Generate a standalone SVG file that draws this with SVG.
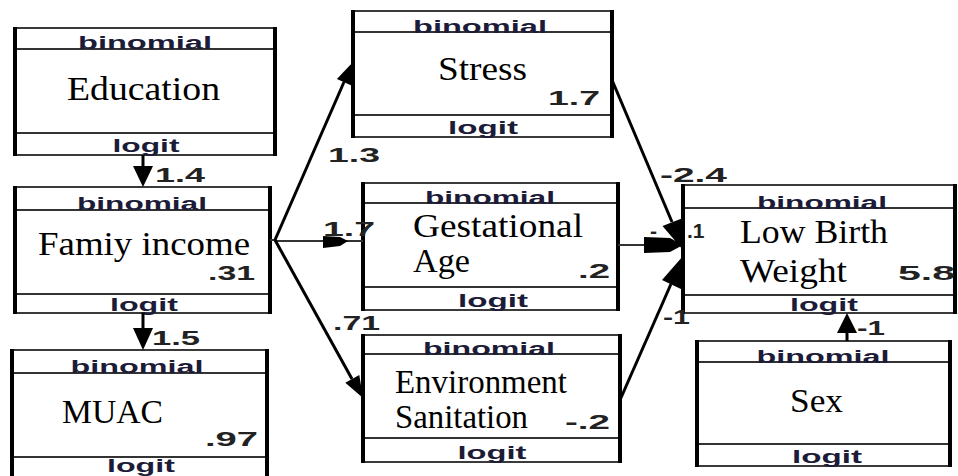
<svg xmlns="http://www.w3.org/2000/svg" width="958" height="476" viewBox="0 0 958 476">
<style>
.frame{fill:#fff;stroke:#3a3a3a;stroke-width:2}
.side{stroke:#000;stroke-width:4}
.div{stroke:#333;stroke-width:2}
.tag{font-family:"Liberation Sans",Arial,sans-serif;font-size:18px;font-weight:bold;fill:#1c1c38;text-anchor:middle}
.lbl{font-family:"Liberation Serif","Times New Roman",serif;font-size:34px;fill:#000}
.num{font-family:"Liberation Sans",Arial,sans-serif;font-size:21px;font-weight:bold;fill:#222}
.ln{stroke:#000;stroke-width:3;fill:none}
.thin{stroke:#333;stroke-width:2;fill:none}
.hd{fill:#000;stroke:none}
</style>
<rect width="958" height="476" fill="#fff"/>

<g id="education">
<rect class="frame" x="15" y="28" width="260" height="127"/>
<line class="div" x1="15" y1="49" x2="275" y2="49"/>
<line class="div" x1="15" y1="133" x2="275" y2="133"/>
<line class="side" x1="15" y1="27" x2="15" y2="156"/>
<line class="side" x1="275" y1="27" x2="275" y2="156"/>
<text class="tag" x="145" y="49" textLength="134" lengthAdjust="spacingAndGlyphs">binomial</text>
<text class="lbl" x="67" y="100" textLength="153" lengthAdjust="spacingAndGlyphs">Education</text>
<text class="tag" x="146" y="152" textLength="67" lengthAdjust="spacingAndGlyphs">logit</text>
</g>

<g id="family-income">
<rect class="frame" x="15" y="187" width="255" height="126"/>
<line class="div" x1="15" y1="210" x2="270" y2="210"/>
<line class="div" x1="15" y1="294" x2="270" y2="294"/>
<line class="side" x1="15" y1="186" x2="15" y2="314"/>
<line class="side" x1="270" y1="186" x2="270" y2="314"/>
<text class="tag" x="142" y="210" textLength="130" lengthAdjust="spacingAndGlyphs">binomial</text>
<text class="lbl" x="38" y="255" textLength="212" lengthAdjust="spacingAndGlyphs">Famiy income</text>
<text class="num" x="208" y="280" textLength="47" lengthAdjust="spacingAndGlyphs">.31</text>
<text class="tag" x="144" y="311" textLength="68" lengthAdjust="spacingAndGlyphs">logit</text>
</g>

<g id="muac">
<rect class="frame" x="12" y="350" width="255" height="132"/>
<line class="div" x1="12" y1="373" x2="267" y2="373"/>
<line class="div" x1="12" y1="457" x2="267" y2="457"/>
<line class="side" x1="12" y1="349" x2="12" y2="480"/>
<line class="side" x1="267" y1="349" x2="267" y2="480"/>
<text class="tag" x="137" y="373" textLength="133" lengthAdjust="spacingAndGlyphs">binomial</text>
<text class="lbl" x="62" y="423" textLength="101" lengthAdjust="spacingAndGlyphs">MUAC</text>
<text class="num" x="205" y="446" textLength="53" lengthAdjust="spacingAndGlyphs">.97</text>
<text class="tag" x="141" y="472" textLength="68" lengthAdjust="spacingAndGlyphs">logit</text>
</g>

<g id="stress">
<rect class="frame" x="353" y="11" width="259" height="126"/>
<line class="div" x1="353" y1="32" x2="612" y2="32"/>
<line class="div" x1="353" y1="115" x2="612" y2="115"/>
<line class="side" x1="353" y1="10" x2="353" y2="138"/>
<line class="side" x1="612" y1="10" x2="612" y2="138"/>
<text class="tag" x="480" y="33" textLength="134" lengthAdjust="spacingAndGlyphs">binomial</text>
<text class="lbl" x="438" y="80" textLength="89" lengthAdjust="spacingAndGlyphs">Stress</text>
<text class="num" x="548" y="105" textLength="52" lengthAdjust="spacingAndGlyphs">1.7</text>
<text class="tag" x="483" y="134" textLength="70" lengthAdjust="spacingAndGlyphs">logit</text>
</g>

<g id="gestational-age">
<rect class="frame" x="363" y="183" width="255" height="127"/>
<line class="div" x1="363" y1="203" x2="618" y2="203"/>
<line class="div" x1="363" y1="287" x2="618" y2="287"/>
<line class="side" x1="363" y1="182" x2="363" y2="311"/>
<line class="side" x1="618" y1="182" x2="618" y2="311"/>
<text class="tag" x="490" y="204" textLength="130" lengthAdjust="spacingAndGlyphs">binomial</text>
<text class="lbl" x="413" y="237" textLength="170" lengthAdjust="spacingAndGlyphs">Gestational</text>
<text class="lbl" x="413" y="272" textLength="57" lengthAdjust="spacingAndGlyphs">Age</text>
<text class="num" x="578" y="278" textLength="32" lengthAdjust="spacingAndGlyphs">.2</text>
<text class="tag" x="493" y="307" textLength="70" lengthAdjust="spacingAndGlyphs">logit</text>
</g>

<g id="environment-sanitation">
<rect class="frame" x="363" y="335" width="257" height="127"/>
<line class="div" x1="363" y1="354" x2="620" y2="354"/>
<line class="div" x1="363" y1="438" x2="620" y2="438"/>
<line class="side" x1="363" y1="334" x2="363" y2="463"/>
<line class="side" x1="620" y1="334" x2="620" y2="463"/>
<text class="tag" x="489" y="355" textLength="132" lengthAdjust="spacingAndGlyphs">binomial</text>
<text class="lbl" x="395" y="393" font-size="30" textLength="172" lengthAdjust="spacingAndGlyphs">Environment</text>
<text class="lbl" x="395" y="428" font-size="30" textLength="133" lengthAdjust="spacingAndGlyphs">Sanitation</text>
<text class="num" x="565" y="429" textLength="45" lengthAdjust="spacingAndGlyphs">-.2</text>
<text class="tag" x="492" y="459" textLength="69" lengthAdjust="spacingAndGlyphs">logit</text>
</g>

<g id="low-birth-weight">
<rect class="frame" x="683" y="185" width="272" height="128"/>
<line class="div" x1="683" y1="208" x2="955" y2="208"/>
<line class="div" x1="683" y1="295" x2="955" y2="295"/>
<line class="side" x1="683" y1="184" x2="683" y2="314"/>
<line class="side" x1="955" y1="184" x2="955" y2="314"/>
<text class="tag" x="822" y="209" textLength="130" lengthAdjust="spacingAndGlyphs">binomial</text>
<text class="lbl" x="740" y="243" textLength="148" lengthAdjust="spacingAndGlyphs">Low Birth</text>
<text class="lbl" x="740" y="282" textLength="107" lengthAdjust="spacingAndGlyphs">Weight</text>
<text class="num" x="898" y="280" textLength="57" lengthAdjust="spacingAndGlyphs">5.8</text>
<text class="tag" x="824" y="311" textLength="68" lengthAdjust="spacingAndGlyphs">logit</text>
</g>

<g id="sex">
<rect class="frame" x="697" y="341" width="253" height="125"/>
<line class="div" x1="697" y1="362" x2="950" y2="362"/>
<line class="div" x1="697" y1="444" x2="950" y2="444"/>
<line class="side" x1="697" y1="340" x2="697" y2="467"/>
<line class="side" x1="950" y1="340" x2="950" y2="467"/>
<text class="tag" x="823" y="363" textLength="133" lengthAdjust="spacingAndGlyphs">binomial</text>
<text class="lbl" x="790" y="412" textLength="53" lengthAdjust="spacingAndGlyphs">Sex</text>
<text class="tag" x="827" y="463" textLength="70" lengthAdjust="spacingAndGlyphs">logit</text>
</g>

<g id="labels">
<text class="num" x="155" y="182" textLength="50" lengthAdjust="spacingAndGlyphs">1.4</text>
<text class="num" x="152" y="345" textLength="48" lengthAdjust="spacingAndGlyphs">1.5</text>
<text class="num" x="328" y="162" textLength="52" lengthAdjust="spacingAndGlyphs">1.3</text>
<text class="num" x="323" y="236" textLength="52" lengthAdjust="spacingAndGlyphs">1.7</text>
<text class="num" x="333" y="330" textLength="47" lengthAdjust="spacingAndGlyphs">.71</text>
<text class="num" x="660" y="182" textLength="67" lengthAdjust="spacingAndGlyphs">-2.4</text>
<text class="num" x="650" y="238">-<tspan dx="30">.1</tspan></text>
<text class="num" x="663" y="324" textLength="27" lengthAdjust="spacingAndGlyphs">-1</text>
<text class="num" x="857" y="335" textLength="28" lengthAdjust="spacingAndGlyphs">-1</text>
</g>

<g id="connectors">
<line class="ln" x1="143" y1="155" x2="143" y2="168"/>
<polygon class="hd" points="133,166 153,166 143,187"/>
<line class="ln" x1="143" y1="313" x2="143" y2="330"/>
<polygon class="hd" points="133,328 153,328 143,350"/>
<line class="thin" x1="270" y1="240" x2="275" y2="240"/>
<line class="ln" x1="275" y1="240" x2="344" y2="82"/>
<polygon class="hd" points="353,62 351.5,85.4 336.9,79"/>
<line class="thin" x1="275" y1="241" x2="363" y2="241"/>
<polygon class="hd" points="323,236 340,237 348,241 340,246 323,248"/>
<line class="ln" x1="275" y1="240" x2="352" y2="379"/>
<polygon class="hd" points="363,398 345.3,382.7 359.3,374.9"/>
<line class="ln" x1="612" y1="80" x2="672" y2="222"/>
<polygon class="hd" points="683,250 662.5,226 683,218"/>
<line class="thin" x1="618" y1="245" x2="645" y2="245"/>
<polygon class="hd" points="644,237 670,238 683,245 670,252 644,253"/>
<line class="ln" x1="620" y1="400" x2="671" y2="284"/>
<polygon class="hd" points="683,256 683,290 662,280"/>
<line class="ln" x1="847" y1="341" x2="847" y2="330"/>
<polygon class="hd" points="837,333 857,333 847,313"/>
</g>
</svg>
